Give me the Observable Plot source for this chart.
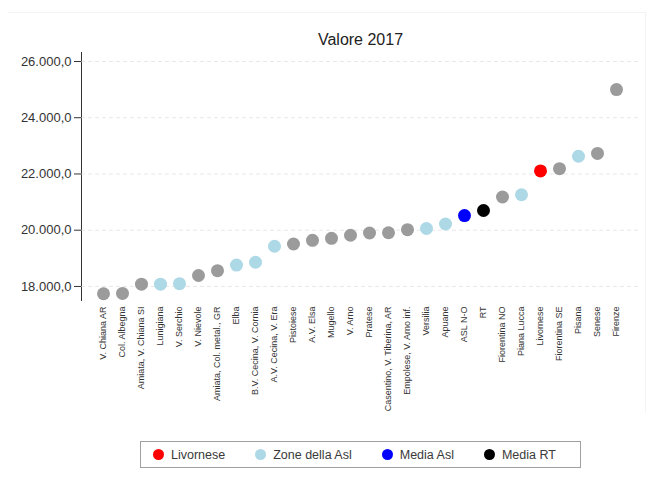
<!DOCTYPE html>
<html>
<head>
<meta charset="utf-8">
<script src="https://cdn.jsdelivr.net/npm/d3@7"></script>
<script src="https://cdn.jsdelivr.net/npm/@observablehq/plot@0.6"></script>
<style>
  html, body { margin: 0; padding: 0; background: #fff; }
  #wrap { position: relative; width: 650px; height: 483px; font-family: "Liberation Sans", Arial, sans-serif; overflow: hidden; }
  #frame { position: absolute; left: 8px; top: 12px; width: 637px; height: 400px; border-top: 1px solid #f3f3f3; border-right: 1px solid #f3f3f3; }
  #title { position: absolute; left: 81px; width: 559px; top: 31px; text-align: center; font-size: 16px; color: #222; }
  #chart { position: absolute; left: 0; top: 0; }
  #chart [aria-label="y-axis line"] { stroke: #111; stroke-width: 1.6px; }
  #legend { position: absolute; left: 140px; top: 441px; width: 441px; height: 27px; border: 1px solid #a0a0a0; box-sizing: border-box; display: flex; align-items: center; font-size: 12.5px; color: #3a3a3a; }
  .item { display: flex; align-items: center; }
  .sw { width: 11px; height: 11px; border-radius: 50%; display: inline-block; margin-right: 7px; }
</style>
</head>
<body>
<div id="wrap">
  <div id="frame"></div>
  <div id="chart"></div>
  <div id="title">Valore 2017</div>
  <div id="legend"></div>
</div>
<script>
const categories = [
  "V. Chiana AR", "Col. Albegna", "Amiata, V. Chiana SI", "Lunigiana", "V. Serchio",
  "V. Nievole", "Amiata, Col. metal., GR", "Elba", "B.V. Cecina, V. Cornia", "A.V. Cecina, V. Era",
  "Pistoiese", "A.V. Elsa", "Mugello", "V. Arno", "Pratese",
  "Casentino, V. Tiberina, AR", "Empolese, V. Arno inf.", "Versilia", "Apuane", "ASL N-O",
  "RT", "Fiorentina NO", "Piana Lucca", "Livornese", "Fiorentina SE",
  "Pisana", "Senese", "Firenze"
];
const values = [
  17740, 17750, 18080, 18080, 18100,
  18390, 18560, 18760, 18860, 19430,
  19510, 19640, 19710, 19820, 19900,
  19910, 20020, 20060, 20220, 20520,
  20700, 21180, 21260, 22110, 22190,
  22630, 22730, 25000
];
const groups = [
  "Altre", "Altre", "Altre", "Zone della Asl", "Zone della Asl",
  "Altre", "Altre", "Zone della Asl", "Zone della Asl", "Zone della Asl",
  "Altre", "Altre", "Altre", "Altre", "Altre",
  "Altre", "Altre", "Zone della Asl", "Zone della Asl", "Media Asl",
  "Media RT", "Altre", "Zone della Asl", "Livornese", "Altre",
  "Zone della Asl", "Altre", "Altre"
];
const groupDomain = ["Altre", "Livornese", "Zone della Asl", "Media Asl", "Media RT"];
const groupColors = ["#9b9b9b", "#ff0000", "#add8e6", "#0000ff", "#000000"];
const legendLabels = ["Livornese", "Zone della Asl", "Media Asl", "Media RT"];
const yTicks = [18000, 20000, 22000, 24000, 26000];

const data = categories.map((c, i) => ({ cat: c, val: values[i], grp: groups[i] }));
const itFmt = d3.formatLocale({ decimal: ",", thousands: ".", grouping: [3], currency: ["", "€"] }).format(",.1f");

const chart = Plot.plot({
  width: 650,
  height: 420,
  marginLeft: 81,
  marginRight: 12,
  marginTop: 52,
  marginBottom: 120,
  style: { fontFamily: "'Liberation Sans', Arial, sans-serif", fontSize: "13px", background: "transparent", color: "#333" },
  x: { type: "point", domain: categories, padding: 0.55, label: null },
  y: { domain: [17500, 26320], ticks: yTicks, tickFormat: itFmt, tickSize: 7, tickPadding: 3, line: true, label: null },
  color: { domain: groupDomain, range: groupColors },
  marks: [
    Plot.gridY(yTicks, { stroke: "#d8d8d8", strokeOpacity: 0.6, strokeDasharray: "4,3" }),
    Plot.axisX({ tickSize: 0, tickPadding: 6, tickRotate: -90, fontSize: 9, label: null }),
    Plot.dot(data, { x: "cat", y: "val", r: 6.5, fill: "grp", stroke: null })
  ]
});
document.getElementById("chart").appendChild(chart);

const leg = document.getElementById("legend");
const gaps = [12, 30, 30, 30];
legendLabels.forEach((lab, i) => {
  const item = document.createElement("div");
  item.className = "item";
  item.style.marginLeft = gaps[i] + "px";
  const sw = document.createElement("span");
  sw.className = "sw";
  sw.style.background = groupColors[groupDomain.indexOf(lab)];
  item.appendChild(sw);
  item.appendChild(document.createTextNode(lab));
  leg.appendChild(item);
});
</script>
</body>
</html>
